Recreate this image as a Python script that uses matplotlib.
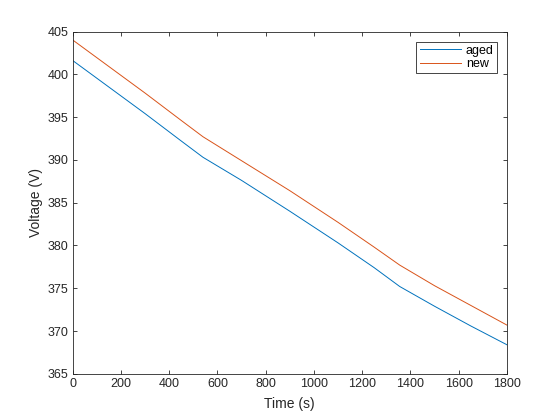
import matplotlib
matplotlib.use('Agg')
import matplotlib.pyplot as plt

t_aged = [0, 150, 300, 450, 540, 700, 900, 1100, 1250, 1356, 1500, 1650, 1800]
v_aged = [401.6, 398.5, 395.4, 392.2, 390.3, 387.6, 384.0, 380.3, 377.4, 375.2, 372.9, 370.6, 368.4]

t_new = [0, 150, 300, 450, 540, 700, 900, 1100, 1250, 1356, 1500, 1650, 1800]
v_new = [404.0, 400.9, 397.8, 394.6, 392.7, 389.9, 386.4, 382.7, 379.8, 377.7, 375.3, 373.0, 370.7]

plt.rcParams['font.family'] = ['Liberation Sans', 'DejaVu Sans']
fig = plt.figure(figsize=(5.6, 4.2), dpi=100)
ax = fig.add_axes([0.13, 0.11, 0.775, 0.815])
ax.plot(t_aged, v_aged, color='#0072BD', linewidth=0.7, label='aged')
ax.plot(t_new, v_new, color='#D95319', linewidth=0.7, label='new')
ax.set_xlim(0, 1800)
ax.set_ylim(365, 405)
ax.set_xticks(range(0, 1801, 200))
ax.set_yticks(range(365, 406, 5))
ax.tick_params(direction='in', top=True, right=True, length=3.2, width=0.6,
               labelsize=9, colors='#262626', pad=3)
for s in ax.spines.values():
    s.set_linewidth(0.6)
    s.set_color('#262626')
ax.set_xlabel('Time (s)', fontsize=10, color='#262626', labelpad=5)
ax.set_ylabel('Voltage (V)', fontsize=10, color='#262626', labelpad=3)
leg = ax.legend(loc='upper right', fontsize=9, fancybox=False, framealpha=1,
                edgecolor='#262626', borderpad=0.25, handlelength=3.3,
                handletextpad=0.4, labelspacing=0.1, borderaxespad=0.8)
leg.get_frame().set_linewidth(0.6)
fig.savefig('out.png', dpi=100)
